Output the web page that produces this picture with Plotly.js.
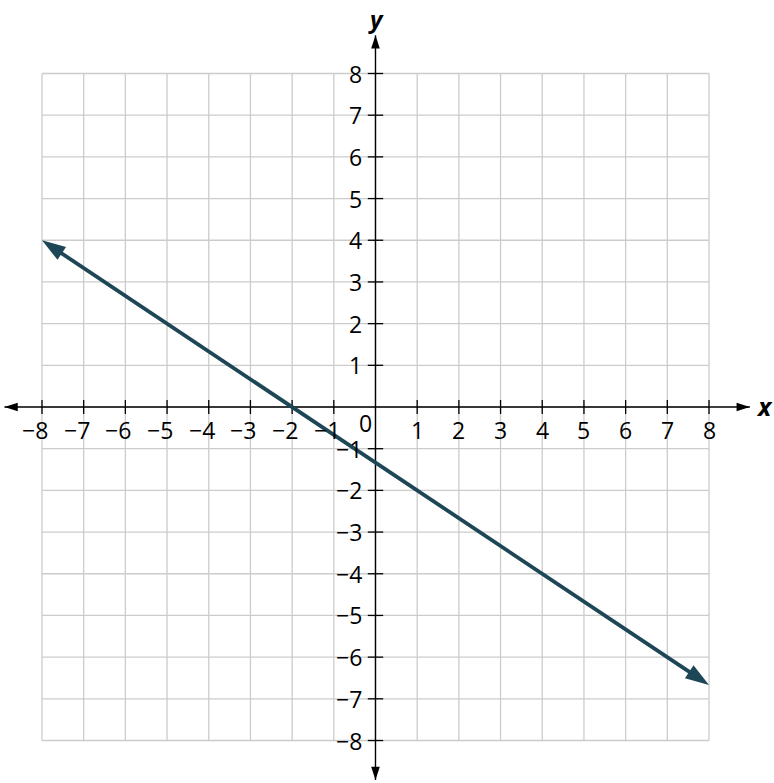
<!DOCTYPE html>
<html>
<head>
<meta charset="utf-8">
<script src="https://cdn.plot.ly/plotly-3.0.1.min.js"></script>
<style>
  html, body { margin: 0; padding: 0; background: #fff; }
  #graph { width: 774px; height: 783px; }
</style>
</head>
<body>
<div id="graph"></div>
<script>
// grid / tick values on both axes
const ticks = [-8, -7, -6, -5, -4, -3, -2, -1, 0, 1, 2, 3, 4, 5, 6, 7, 8];
const tickLabels = ["−8", "−7", "−6", "−5", "−4", "−3", "−2", "−1", "0", "1", "2", "3", "4", "5", "6", "7", "8"];

// the graphed line y = -2/3 x - 4/3, between its two arrow tips
const lineX = [-8, 8];
const lineY = [4, -20 / 3];

// where the axis arrows end
const xAxisEnds = [-8.9, 8.98];
const yAxisEnds = [-8.95, 8.92];

const LINE_COLOR = "#1d4656";
const GRID_COLOR = "#cccccc";
const FONT = "Open Sans, Noto Sans, sans-serif";
const LABEL_SIZE = 23;

const gridShapes = [];
ticks.forEach(t => {
  gridShapes.push({ type: "line", xref: "x", yref: "y", x0: t, x1: t, y0: -8, y1: 8,
    line: { color: GRID_COLOR, width: 1.3 }, layer: "below" });
  gridShapes.push({ type: "line", xref: "x", yref: "y", x0: -8, x1: 8, y0: t, y1: t,
    line: { color: GRID_COLOR, width: 1.3 }, layer: "below" });
});

const annotations = [];

// tick labels
ticks.forEach((t, i) => {
  if (t === 0) return;
  annotations.push({ x: t, y: 0, xref: "x", yref: "y", text: tickLabels[i], showarrow: false,
    xanchor: "center", yanchor: "middle", yshift: -23, xshift: t < 0 ? -7 : 0,
    font: { family: FONT, size: LABEL_SIZE, color: "#000" } });
  annotations.push({ x: 0, y: t, xref: "x", yref: "y", text: tickLabels[i], showarrow: false,
    xanchor: "right", yanchor: "middle", xshift: -11,
    font: { family: FONT, size: LABEL_SIZE, color: "#000" } });
});
annotations.push({ x: 0, y: 0, xref: "x", yref: "y", text: tickLabels[ticks.indexOf(0)],
  showarrow: false, xanchor: "center", yanchor: "middle", xshift: -10, yshift: -16,
  font: { family: FONT, size: LABEL_SIZE, color: "#000" } });

// axis names
annotations.push({ x: 9.34, y: 0, xref: "x", yref: "y", text: "<b><i>x</i></b>",
  showarrow: false, xanchor: "center", yanchor: "middle", yshift: 1,
  font: { family: FONT, size: 25, color: "#000" } });
annotations.push({ x: 0, y: 9.33, xref: "x", yref: "y", text: "<b><i>y</i></b>",
  showarrow: false, xanchor: "center", yanchor: "middle", xshift: 1,
  font: { family: FONT, size: 24, color: "#000" } });

const nonZero = ticks.filter(t => t !== 0);

// screen angle (degrees, clockwise from up) of the direction from point a to point b
function headAngle(ax, ay, bx, by) {
  return Math.atan2(bx - ax, by - ay) * 180 / Math.PI;
}
const tipAngles = [
  headAngle(lineX[1], lineY[1], lineX[0], lineY[0]),
  headAngle(lineX[0], lineY[0], lineX[1], lineY[1])
];
// stop the thick line a little short of each tip so the arrowhead covers the end
const trim = 0.35;
const len = Math.hypot(lineX[1] - lineX[0], lineY[1] - lineY[0]);
const ux = (lineX[1] - lineX[0]) / len, uy = (lineY[1] - lineY[0]) / len;
const bodyX = [lineX[0] + ux * trim, lineX[1] - ux * trim];
const bodyY = [lineY[0] + uy * trim, lineY[1] - uy * trim];

const traces = [
  // axes
  { x: xAxisEnds, y: [0, 0], type: "scatter", mode: "lines",
    line: { color: "#000", width: 1.4 }, hoverinfo: "skip" },
  { x: [0, 0], y: yAxisEnds, type: "scatter", mode: "lines",
    line: { color: "#000", width: 1.4 }, hoverinfo: "skip" },
  // axis arrowheads
  { x: [xAxisEnds[0], xAxisEnds[1], 0, 0], y: [0, 0, yAxisEnds[0], yAxisEnds[1]],
    type: "scatter", mode: "markers",
    marker: { symbol: "arrow", size: 14, angle: [-90, 90, 180, 0], color: "#000",
      line: { width: 0 } },
    hoverinfo: "skip", cliponaxis: false },
  // tick marks
  { x: nonZero, y: nonZero.map(() => 0), type: "scatter", mode: "markers",
    marker: { symbol: "line-ns-open", size: 10, color: "#000", line: { color: "#000", width: 1.3 } },
    hoverinfo: "skip" },
  { x: nonZero.map(() => 0), y: nonZero, type: "scatter", mode: "markers",
    marker: { symbol: "line-ew-open", size: 11, color: "#000", line: { color: "#000", width: 1.3 } },
    hoverinfo: "skip" },
  // the graphed line
  { x: bodyX, y: bodyY, type: "scatter", mode: "lines",
    line: { color: LINE_COLOR, width: 3.8 }, hoverinfo: "skip" },
  { x: lineX, y: lineY, type: "scatter", mode: "markers",
    marker: { symbol: "arrow", size: 25, angle: tipAngles, color: LINE_COLOR, line: { width: 0 } },
    hoverinfo: "skip", cliponaxis: false }
];

const hiddenAxis = { showgrid: false, zeroline: false, showticklabels: false, ticks: "",
  showline: false, fixedrange: true };

const layout = {
  width: 774,
  height: 783,
  margin: { l: 0, r: 0, t: 0, b: 0 },
  paper_bgcolor: "#fff",
  plot_bgcolor: "#fff",
  showlegend: false,
  xaxis: Object.assign({ range: [-9.007, 9.559] }, hiddenAxis),
  yaxis: Object.assign({ range: [-9.019, 9.763] }, hiddenAxis),
  shapes: gridShapes,
  annotations: annotations
};

Plotly.newPlot("graph", traces, layout, { staticPlot: true, displayModeBar: false });
</script>
</body>
</html>
